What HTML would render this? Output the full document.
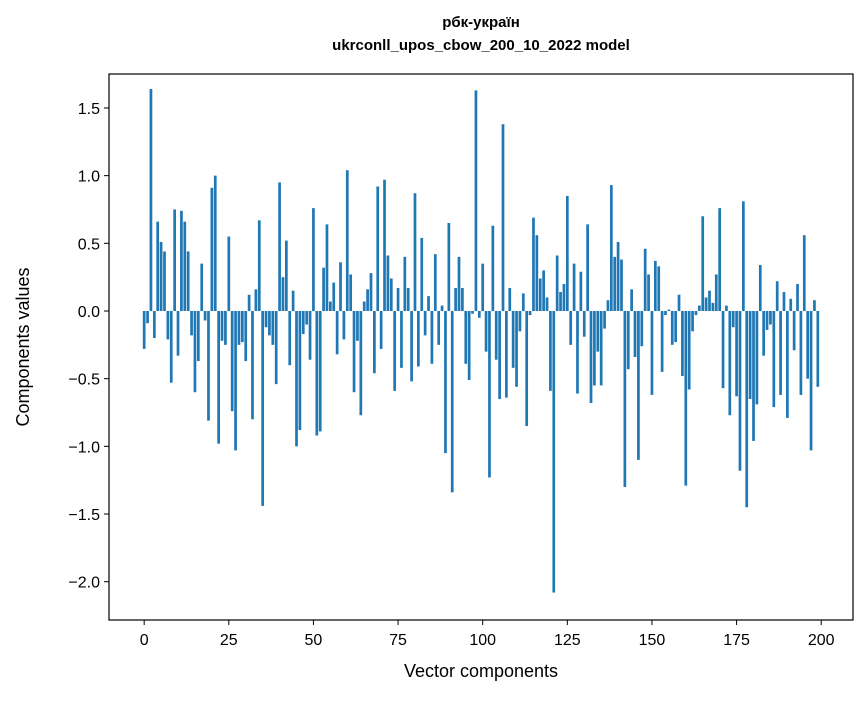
<!DOCTYPE html>
<html><head><meta charset="utf-8"><style>
body{margin:0;background:#fff;font-family:"Liberation Sans","DejaVu Sans",sans-serif}
</style></head><body>
<svg id="chart" width="867" height="696" xmlns="http://www.w3.org/2000/svg" font-family="Liberation Sans, DejaVu Sans, sans-serif">
<rect width="867" height="696" fill="#fff"/>
<text x="481" y="27" text-anchor="middle" font-size="15" font-weight="bold">рбк-україн</text>
<text x="481" y="50" text-anchor="middle" font-size="15" font-weight="bold">ukrconll_upos_cbow_200_10_2022 model</text>
<g id="bars"></g>
<g id="axes"></g>
<text x="481" y="677" text-anchor="middle" font-size="18">Vector components</text>
<text transform="translate(29,347) rotate(-90)" text-anchor="middle" font-size="18">Components values</text>
</svg>
<script>
const values=[-0.28,-0.09,1.64,-0.2,0.66,0.51,0.44,-0.21,-0.53,0.75,-0.33,0.74,0.66,0.44,-0.18,-0.6,-0.37,0.35,-0.07,-0.81,0.91,1.0,-0.98,-0.22,-0.25,0.55,-0.74,-1.03,-0.25,-0.23,-0.37,0.12,-0.8,0.16,0.67,-1.44,-0.12,-0.18,-0.25,-0.54,0.95,0.25,0.52,-0.4,0.15,-1.0,-0.88,-0.17,-0.1,-0.36,0.76,-0.92,-0.89,0.32,0.64,0.07,0.21,-0.32,0.36,-0.21,1.04,0.27,-0.6,-0.22,-0.77,0.07,0.16,0.28,-0.46,0.92,-0.28,0.97,0.41,0.24,-0.59,0.17,-0.42,0.4,0.17,-0.52,0.87,-0.41,0.54,-0.18,0.11,-0.39,0.42,-0.25,0.04,-1.05,0.65,-1.34,0.17,0.4,0.17,-0.39,-0.51,-0.02,1.63,-0.05,0.35,-0.3,-1.23,0.63,-0.36,-0.65,1.38,-0.64,0.17,-0.42,-0.56,-0.15,0.13,-0.85,-0.03,0.69,0.56,0.24,0.3,0.1,-0.59,-2.08,0.41,0.14,0.2,0.85,-0.25,0.35,-0.61,0.29,-0.19,0.64,-0.68,-0.55,-0.3,-0.55,-0.13,0.08,0.93,0.4,0.51,0.38,-1.3,-0.43,0.16,-0.34,-1.1,-0.26,0.46,0.27,-0.62,0.37,0.33,-0.45,-0.03,0.01,-0.25,-0.23,0.12,-0.48,-1.29,-0.58,-0.15,-0.03,0.04,0.7,0.1,0.15,0.06,0.27,0.76,-0.57,0.04,-0.77,-0.12,-0.63,-1.18,0.81,-1.45,-0.65,-0.96,-0.69,0.34,-0.33,-0.14,-0.1,-0.71,0.22,-0.62,0.14,-0.79,0.09,-0.29,0.2,-0.62,0.56,-0.5,-1.03,0.08,-0.56];
const xTicks=[0,25,50,75,100,125,150,175,200];
const yTicks=[-2.0,-1.5,-1.0,-0.5,0.0,0.5,1.0,1.5];
const L=109,R=853,T=74,B=620;
const n=values.length;
const xmin=-0.4-(n-0.2)*0.05, xmax=(n-1)+0.4+(n-0.2)*0.05;
const ymin=-2.283, ymax=1.751;
const sx=v=>L+(v-xmin)/(xmax-xmin)*(R-L);
const sy=v=>B-(v-ymin)/(ymax-ymin)*(B-T);
const NS="http://www.w3.org/2000/svg";
const bars=document.getElementById('bars'), axes=document.getElementById('axes');
values.forEach((v,i)=>{
  const r=document.createElementNS(NS,'rect');
  
  
  const x0=sx(i-0.4), x1=sx(i+0.4);
  r.setAttribute('x',x0);r.setAttribute('width',x1-x0);
  r.setAttribute('y',Math.min(sy(v),sy(0)));r.setAttribute('height',Math.abs(sy(v)-sy(0)));
  r.setAttribute('fill','#1f77b4');
  bars.appendChild(r);
});
const frame=document.createElementNS(NS,'rect');


frame.setAttribute('x',L);frame.setAttribute('y',T);frame.setAttribute('width',R-L);frame.setAttribute('height',B-T);
frame.setAttribute('fill','none');frame.setAttribute('stroke','#000');frame.setAttribute('stroke-width','1.2');
axes.appendChild(frame);
xTicks.forEach(t=>{
  const x=sx(t);
  const l=document.createElementNS(NS,'line');
  
  
  l.setAttribute('x1',x);l.setAttribute('x2',x);l.setAttribute('y1',B);l.setAttribute('y2',B+5);l.setAttribute('stroke','#000');
  axes.appendChild(l);
  const tx=document.createElementNS(NS,'text');
  
  
  tx.setAttribute('x',x);tx.setAttribute('y',B+25);tx.setAttribute('text-anchor','middle');tx.setAttribute('font-size','16');
  tx.textContent=t;axes.appendChild(tx);
});
yTicks.forEach(t=>{
  const y=sy(t);
  const l=document.createElementNS(NS,'line');
  
  
  l.setAttribute('x1',L-5);l.setAttribute('x2',L);l.setAttribute('y1',y);l.setAttribute('y2',y);l.setAttribute('stroke','#000');
  axes.appendChild(l);
  const tx=document.createElementNS(NS,'text');
  
  
  tx.setAttribute('x',L-9);tx.setAttribute('y',y+6);tx.setAttribute('text-anchor','end');tx.setAttribute('font-size','16');
  tx.textContent=(t<0?'\u2212':'')+Math.abs(t).toFixed(1);axes.appendChild(tx);
});
</script>
</body></html>
